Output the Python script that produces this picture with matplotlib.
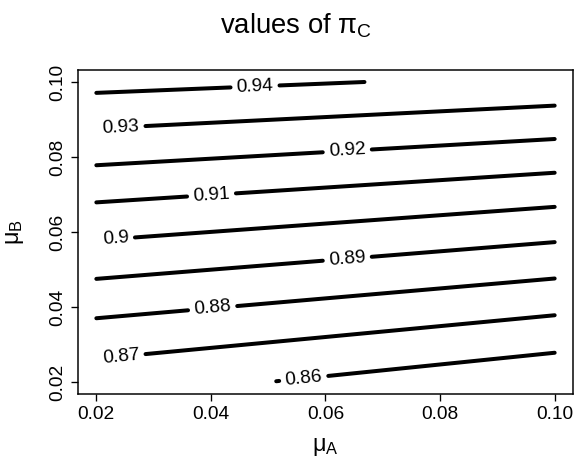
import numpy as np
import matplotlib
matplotlib.use('Agg')
import matplotlib.pyplot as plt

plt.rcParams['font.family'] = ['Liberation Sans', 'DejaVu Sans']
plt.rcParams['mathtext.fontset'] = 'custom'
plt.rcParams['mathtext.rm'] = 'Liberation Sans'
plt.rcParams['mathtext.it'] = 'Liberation Sans'
plt.rcParams['mathtext.sf'] = 'Liberation Sans'

# contour levels of pi_C
levels = ['0.86', '0.87', '0.88', '0.89', '0.9', '0.91', '0.92', '0.93', '0.94']
x_start = [0.0514, 0.02, 0.02, 0.02, 0.02, 0.02, 0.02, 0.02, 0.02]
x_end = [0.10, 0.10, 0.10, 0.10, 0.10, 0.10, 0.10, 0.10, 0.0668]
y_start = [0.0202, 0.0262, 0.0370, 0.0475, 0.0578, 0.0679, 0.0778, 0.0876, 0.0971]
y_end = [0.0278, 0.0378, 0.0476, 0.0573, 0.0667, 0.0758, 0.0848, 0.0937, 0.1000]
label_x = [0.0562, 0.0243, 0.0403, 0.0638, 0.0234, 0.0401, 0.0638, 0.0243, 0.0477]

ticks = [0.02, 0.04, 0.06, 0.08, 0.10]
tick_labels = ['0.02', '0.04', '0.06', '0.08', '0.10']

W, H = 576, 459
fig = plt.figure(figsize=(W / 120, H / 120), dpi=120)
ax = fig.add_axes([78 / W, 1 - 394 / H, (573 - 78) / W, (394 - 70) / H])
ax.set_xlim(0.0168, 0.1032)
ax.set_ylim(0.0168, 0.1032)
ax.set_xticks(ticks)
ax.set_xticklabels(tick_labels)
ax.set_yticks(ticks)
ax.set_yticklabels(tick_labels, rotation=90, va='center')
ax.tick_params(direction='out', length=4.2, width=0.8, labelsize=11.5, pad=3, colors='black')
for s in ax.spines.values():
    s.set_linewidth(0.9)
    s.set_color('black')

fig.text(325.5 / W, 1 - 451 / H, r'$\mathrm{\mu_A}$', ha='center', va='baseline', fontsize=14)
fig.text(19 / W, 1 - 232 / H, r'$\mathrm{\mu_B}$', ha='center', va='baseline', fontsize=14,
         rotation=90, rotation_mode='anchor')
fig.text(296.5 / W, 1 - 33 / H, r'values of $\mathrm{\pi_C}$', ha='center', va='baseline', fontsize=16.5)

fig.canvas.draw()
renderer = fig.canvas.get_renderer()
gap_px = 6.0
lw = 2.4
min_seg = 1.5
for lab, xs, xe, ys, ye, lx in zip(levels, x_start, x_end, y_start, y_end, label_x):
    ly = ys + (ye - ys) * (lx - xs) / (xe - xs)
    t = ax.text(lx, ly, lab, ha='center', va='center', fontsize=11.5,
                rotation_mode='anchor', zorder=3)
    w = t.get_window_extent(renderer).width
    p0 = ax.transData.transform((xs, ys))
    p1 = ax.transData.transform((xe, ye))
    pc = ax.transData.transform((lx, ly))
    d = p1 - p0
    L = np.hypot(*d)
    u = d / L
    half = w / 2 + gap_px
    a = pc - u * half
    b = pc + u * half
    inv = ax.transData.inverted()
    pa = inv.transform(a)
    pb = inv.transform(b)
    if np.dot(a - p0, u) > min_seg:
        ax.plot([xs, pa[0]], [ys, pa[1]], color='black', lw=lw, solid_capstyle='round')
    if np.dot(p1 - b, u) > min_seg:
        ax.plot([pb[0], xe], [pb[1], ye], color='black', lw=lw, solid_capstyle='round')
    t.set_rotation(np.degrees(np.arctan2(d[1], d[0])))

fig.savefig('out.png', dpi=120)
